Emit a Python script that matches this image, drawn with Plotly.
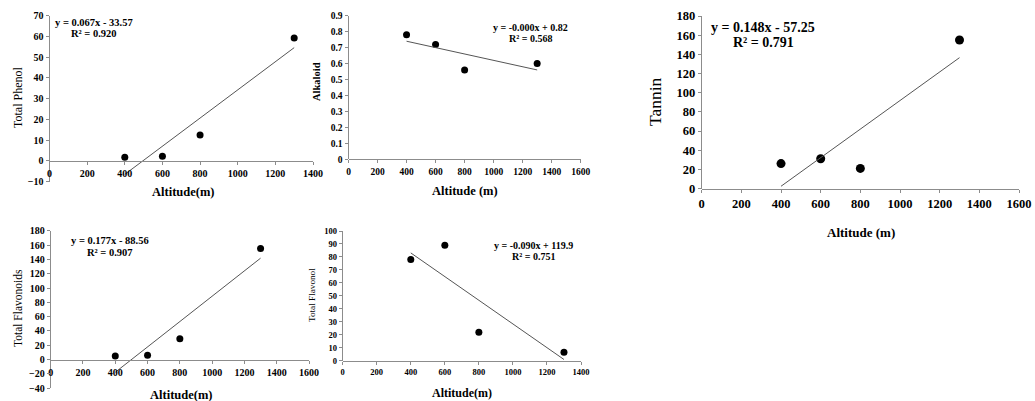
import numpy as np
import plotly.graph_objects as go

# ---------------- data ----------------
altitude = [400, 600, 800, 1300]
total_phenol = [1.8, 2.3, 12.5, 59.3]
alkaloid = [0.78, 0.72, 0.56, 0.60]
tannin = [26, 31, 21, 155]
total_flavonoids = [5, 6, 29, 155]
total_flavonol = [78, 89, 22, 6.5]

eq_phenol = ["y = 0.067x - 33.57", "R² = 0.920"]
eq_alkaloid = ["y = -0.000x + 0.82", "R² = 0.568"]
eq_tannin = ["y = 0.148x - 57.25", "R² = 0.791"]
eq_flavonoids = ["y = 0.177x - 88.56", "R² = 0.907"]
eq_flavonol = ["y = -0.090x + 119.9", "R² = 0.751"]

# ---------------- layout helpers ----------------
W, H = 1035, 401
def px(x):
    return x / W
def py(y):
    return 1 - y / H

FONT = "Liberation Serif"
AX = "#8c8c8c"

panels = [
    dict(y=total_phenol, eq=eq_phenol, ytitle="Total Phenol", xtitle="Altitude(m)",
         xd=(49.5, 313), yd=(181.7, 15.7), xr=(0, 1400), yr=(-10, 70), ydt=10,
         tick=10, ms=7, eqpos=(94, 22.5, 33.5), eqsize=10.5,
         ytpos=(18, 98), ytsize=12, ytbold=False, xtpos=(183, 192), xtsize=12.5),
    dict(y=alkaloid, eq=eq_alkaloid, ytitle="Alkaloid", xtitle="Altitude (m)",
         xd=(348.5, 580.7), yd=(159.3, 15.7), xr=(0, 1600), yr=(0, 0.9), ydt=0.1,
         tick=9.5, ms=7, eqpos=(530, 27.5, 38.5), eqsize=10,
         ytpos=(316, 82), ytsize=10.5, ytbold=True, xtpos=(465, 191), xtsize=12.5),
    dict(y=tannin, eq=eq_tannin, ytitle="Tannin", xtitle="Altitude (m)",
         xd=(701.7, 1019), yd=(188.5, 16), xr=(0, 1600), yr=(0, 180), ydt=20,
         tick=12.5, ms=9, eqpos=(763, 27, 43), eqsize=14,
         ytpos=(655, 102), ytsize=17.5, ytbold=False, xtpos=(861, 232), xtsize=13),
    dict(y=total_flavonoids, eq=eq_flavonoids, ytitle="Total Flavonoids", xtitle="Altitude(m)",
         xd=(50.7, 309), yd=(388.3, 230.7), xr=(0, 1600), yr=(-40, 180), ydt=20,
         tick=10, ms=7, eqpos=(110, 240, 252.5), eqsize=10.5,
         ytpos=(18, 308), ytsize=11.5, ytbold=False, xtpos=(181, 395), xtsize=12.5),
    dict(y=total_flavonol, eq=eq_flavonol, ytitle="Total Flavonol", xtitle="Altitude(m)",
         xd=(342.7, 581), yd=(360.7, 231), xr=(0, 1400), yr=(0, 100), ydt=10,
         tick=8.5, ms=7, eqpos=(533, 245, 256), eqsize=10,
         ytpos=(312, 295), ytsize=9.2, ytbold=False, xtpos=(462, 393), xtsize=12),
]

fig = go.Figure()
annotations = []
layout_axes = {}

for i, p in enumerate(panels, start=1):
    xs = "" if i == 1 else str(i)
    xref, yref = "x" + xs, "y" + xs

    # data points
    fig.add_trace(go.Scatter(
        x=altitude, y=p["y"], mode="markers", xaxis=xref, yaxis=yref,
        marker=dict(color="black", size=p["ms"]), showlegend=False, hoverinfo="x+y"))

    # linear trend line fitted from the data
    slope, intercept = np.polyfit(altitude, p["y"], 1)
    xl = np.array([min(altitude), max(altitude)])
    fig.add_trace(go.Scatter(
        x=xl, y=slope * xl + intercept, mode="lines", xaxis=xref, yaxis=yref,
        line=dict(color="#555555", width=1), showlegend=False, hoverinfo="skip"))

    xdom = [px(p["xd"][0]), px(p["xd"][1])]
    ydom = [py(p["yd"][0]), py(p["yd"][1])]
    y0, y1 = p["yr"]
    # x axis crosses the y axis at value 0
    xpos = ydom[0] + (0 - y0) / (y1 - y0) * (ydom[1] - ydom[0])

    tickfont = dict(family=FONT, size=p["tick"], color="black", weight="bold")
    layout_axes["xaxis" + xs] = dict(
        domain=xdom, range=list(p["xr"]), dtick=200, tick0=0,
        anchor="free", position=xpos, showline=True, linecolor=AX, linewidth=1,
        ticks="outside", ticklen=3, tickcolor=AX, showgrid=False, zeroline=False,
        tickfont=tickfont, fixedrange=True, automargin=False)
    layout_axes["yaxis" + xs] = dict(
        domain=ydom, range=[y0, y1], dtick=p["ydt"], tick0=0,
        anchor=xref, showline=True, linecolor=AX, linewidth=1,
        ticks="outside", ticklen=3, tickcolor=AX, showgrid=False, zeroline=False,
        tickfont=tickfont, fixedrange=True, automargin=False)

    # equation + R²
    ex, ey1, ey2 = p["eqpos"]
    for txt, yy in zip(p["eq"], (ey1, ey2)):
        annotations.append(dict(
            x=px(ex), y=py(yy), xref="paper", yref="paper", text=txt, showarrow=False,
            xanchor="center", yanchor="middle",
            font=dict(family=FONT, size=p["eqsize"], color="black", weight="bold")))

    # axis titles
    annotations.append(dict(
        x=px(p["ytpos"][0]), y=py(p["ytpos"][1]), xref="paper", yref="paper",
        text=p["ytitle"], textangle=-90, showarrow=False, xanchor="center", yanchor="middle",
        font=dict(family=FONT, size=p["ytsize"], color="black",
                  weight="bold" if p["ytbold"] else "normal")))
    annotations.append(dict(
        x=px(p["xtpos"][0]), y=py(p["xtpos"][1]), xref="paper", yref="paper",
        text=p["xtitle"], showarrow=False, xanchor="center", yanchor="middle",
        font=dict(family=FONT, size=p["xtsize"], color="black", weight="bold")))

fig.update_layout(
    width=W, height=H, margin=dict(l=0, r=0, t=0, b=0, autoexpand=False),
    paper_bgcolor="white", plot_bgcolor="white",
    annotations=annotations, **layout_axes)

fig.write_html("out.html", config={"displayModeBar": False},
               post_script="document.body.style.margin='0';document.body.style.overflow='hidden';")
